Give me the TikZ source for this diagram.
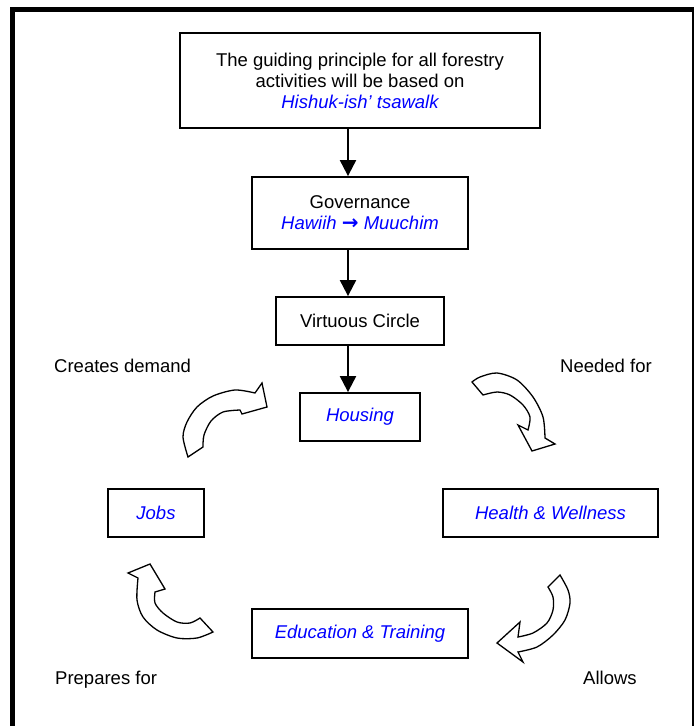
\documentclass[tikz,border=0pt]{standalone}
\usepackage{fontspec}
\setmainfont{Liberation Sans}
\newfontfamily\arrowfont{DejaVu Sans}
\usetikzlibrary{arrows.meta}
\definecolor{txtblue}{RGB}{0,0,255}
\begin{document}
\begin{tikzpicture}[x=1pt,y=-1pt,
  txt/.style={font=\fontsize{18.5}{21}\selectfont},
  box/.style={txt,draw=black,line width=1.8pt,fill=white,inner sep=0pt,align=center},
  flow/.style={line width=2pt,-{Triangle[length=16pt,width=16pt]}},
  barrow/.style={draw=black,line width=1.3pt,fill=white,line join=miter},
  lbl/.style={txt,inner sep=0pt,anchor=base west}]
\useasboundingbox (0,0) rectangle (696,726);
% frame
\draw[line width=5pt] (12.5,730) -- (12.5,9.8) -- (694,9.8);
\draw[line width=2.3pt] (693,9.8) -- (693,730);
% boxes
\node[box,minimum width=360pt,minimum height=95pt] (top) at (360,80.5)
  {The guiding principle for all forestry\\activities will be based on\\{\color{txtblue}\itshape Hishuk-ish’ tsawalk}};
\node[box,minimum width=216pt,minimum height=72pt] (gov) at (360,213)
  {Governance\\{\color{txtblue}\itshape Hawiih {\arrowfont\upshape\bfseries\fontsize{20}{21}\selectfont →} Muuchim}};
\node[box,minimum width=168pt,minimum height=48pt] (vc) at (360,321) {Virtuous Circle};
\node[box,minimum width=120pt,minimum height=48pt] (hous) at (360,417) {\color{txtblue}\itshape Housing};
\node[box,minimum width=96pt,minimum height=48pt] (jobs) at (156,513) {\color{txtblue}\itshape Jobs};
\node[box,minimum width=215pt,minimum height=48pt] (hw) at (550.5,513) {\color{txtblue}\itshape Health \& Wellness};
\node[box,minimum width=216pt,minimum height=49pt] (edu) at (360,633.5) {\color{txtblue}\itshape Education \& Training};
% connectors
\draw[flow] ([xshift=-12pt]top.south) -- ([xshift=-12pt]top.south |- gov.north);
\draw[flow] ([xshift=-12pt]gov.south) -- ([xshift=-12pt]gov.south |- vc.north);
\draw[flow] ([xshift=-12pt]vc.south) -- ([xshift=-12pt]vc.south |- hous.north);
% labels
\node[lbl] (l1) at (54,372.5) {Creates demand};
\node[lbl] (l2) at (560,372.5) {Needed for};
\node[lbl] (l3) at (55,684) {Prepares for};
\node[lbl] (l4) at (583,684) {Allows};
% curved block arrows
\draw[barrow] plot[smooth] coordinates {(188,457) (183,437) (187,422) (197,407) (213,396) (235,390) (255,393)}
  -- (262,383) -- (267,407) -- (242,414)
  -- plot[smooth] coordinates {(240,410) (223,412) (211,421) (204,435) (203,447)} -- cycle;
\draw[barrow] plot[smooth] coordinates {(472,382) (480,377) (497,373) (517,380) (533,397) (543,417) (545,438)}
  -- (555,444) -- (532,451) -- (518,425)
  -- plot[smooth] coordinates {(528,430) (530,417) (523,405) (510,395) (497,392) (483,395)} -- cycle;
\draw[barrow] plot[smooth] coordinates {(560,575) (568,590) (570,603) (565,620) (553,635) (537,647) (518,652)}
  -- (523,662) -- (497,643) -- (520,622)
  -- plot[smooth] coordinates {(518,637) (533,633) (547,623) (553,610) (553,597) (548,587)} -- cycle;
\draw[barrow] plot[smooth] coordinates {(213,632) (197,638) (177,638) (157,630) (143,617) (137,600) (138,578)}
  -- (128,573) -- (150,564) -- (165,589)
  -- plot[smooth] coordinates {(155,592) (155,603) (163,613) (177,622) (190,623) (200,618)} -- cycle;
\end{tikzpicture}
\end{document}
